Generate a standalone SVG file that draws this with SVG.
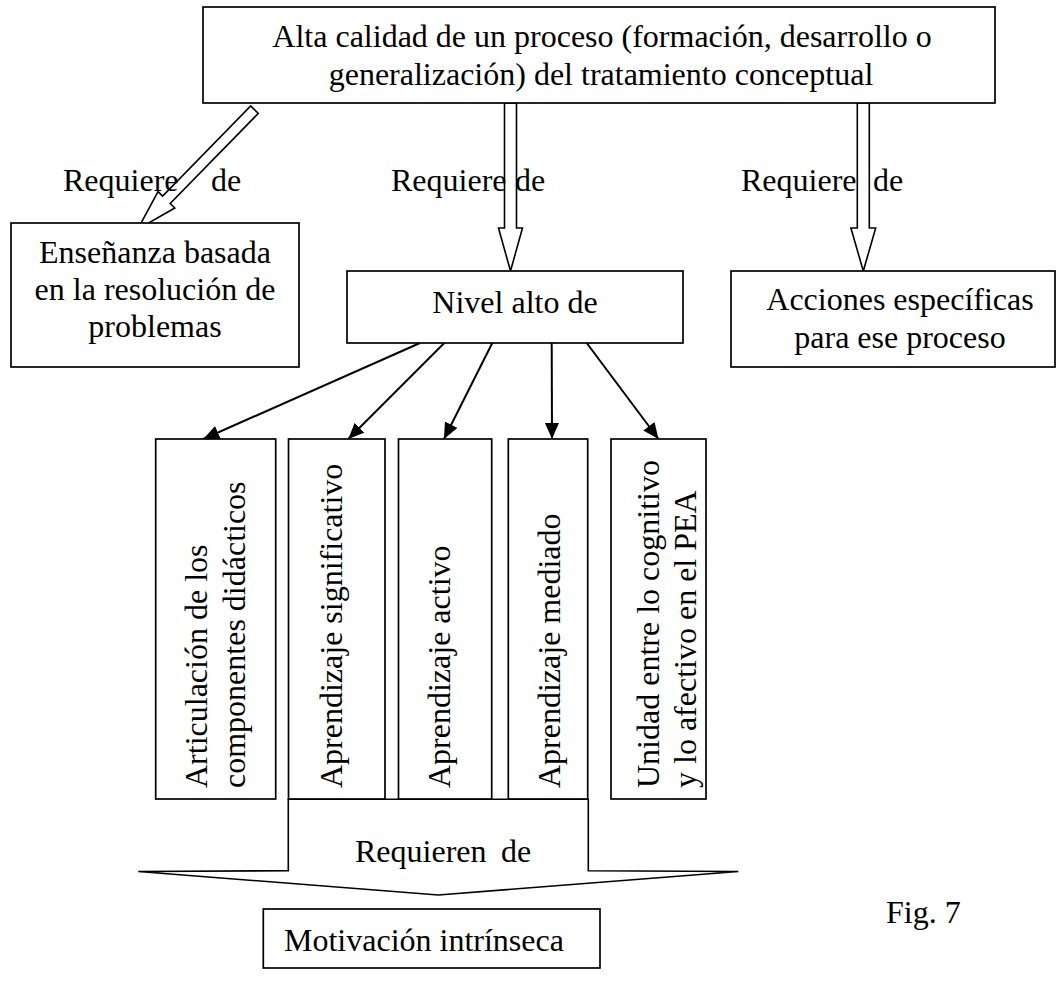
<svg xmlns="http://www.w3.org/2000/svg" width="1057" height="981" viewBox="0 0 1057 981">
  <style>
    .box { fill: #ffffff; stroke: #000000; stroke-width: 1.7; }
    .txt { font-family: "Liberation Serif", "Times New Roman", serif; font-size: 32px; fill: #000000; }
    .mid { text-anchor: middle; }
    .blk { fill: #ffffff; stroke: #000000; stroke-width: 1.6; stroke-linejoin: miter; }
    .thin { fill: none; stroke: #000000; stroke-width: 2; marker-end: url(#head); }
  </style>
  <defs>
    <marker id="head" markerUnits="userSpaceOnUse" markerWidth="17" markerHeight="15" refX="16" refY="7" orient="auto">
      <path d="M0,0 L16,7 L0,14 Z" fill="#000000"/>
    </marker>
  </defs>

  <rect width="1057" height="981" fill="#ffffff"/>

  <!-- connectors: block arrows, thin arrows and their labels -->
  <g id="connectors">
    <!-- top box to "Enseñanza basada" -->
    <polygon class="blk" transform="translate(254.5,109.7) rotate(134.35)"
             points="0,-5.3 126,-5.3 126,-11.7 167,0 126,11.7 126,5.3 0,5.3"/>
    <!-- top box to "Nivel alto de" -->
    <polygon class="blk" points="504.5,103 516.5,103 516.5,228 522.5,228 510.5,271 498.5,228 504.5,228"/>
    <!-- top box to "Acciones específicas" -->
    <polygon class="blk" points="857.3,103 869.3,103 869.3,228 875.7,228 863.3,271 850.9,228 857.3,228"/>

    <!-- "Nivel alto de" to the five vertical boxes -->
    <path class="thin" d="M420,343 L203.3,439"/>
    <path class="thin" d="M444.3,343 L348.3,439"/>
    <path class="thin" d="M492.3,343 L444,439"/>
    <path class="thin" d="M551.7,343 L552,439"/>
    <path class="thin" d="M586.7,343 L658.5,439"/>

    <!-- wide arrow gathering the middle boxes -->
    <polygon class="blk" points="288.3,799.3 588.3,799.3 588.3,870.7 738.3,871.5 438.3,895 138.3,871.5 288.3,870.7"/>

    <text class="txt" y="191"><tspan x="63">Requiere</tspan><tspan x="211">de</tspan></text>
    <text class="txt" y="191"><tspan x="391">Requiere</tspan><tspan x="515">de</tspan></text>
    <text class="txt" y="191"><tspan x="741">Requiere</tspan><tspan x="873">de</tspan></text>
    <text class="txt" y="862"><tspan x="355">Requieren</tspan><tspan x="501">de</tspan></text>
  </g>

  <g id="node-alta-calidad">
    <rect class="box" x="203" y="7" width="792" height="96"/>
    <text class="txt mid" x="602" y="47">Alta calidad de un proceso (formación, desarrollo o</text>
    <text class="txt mid" x="601" y="85">generalización) del tratamiento conceptual</text>
  </g>

  <g id="node-ensenanza">
    <rect class="box" x="11" y="223" width="288" height="144"/>
    <text class="txt mid" x="155" y="263">Enseñanza basada</text>
    <text class="txt mid" x="155" y="300">en la resolución de</text>
    <text class="txt mid" x="155" y="337">problemas</text>
  </g>

  <g id="node-nivel-alto">
    <rect class="box" x="347" y="271" width="336" height="72"/>
    <text class="txt mid" x="515" y="313">Nivel alto de</text>
  </g>

  <g id="node-acciones">
    <rect class="box" x="731" y="271" width="324" height="96"/>
    <text class="txt mid" x="900" y="310">Acciones específicas</text>
    <text class="txt mid" x="900" y="348">para ese proceso</text>
  </g>

  <g id="node-articulacion">
    <rect class="box" x="155.7" y="439" width="120" height="360"/>
    <text class="txt" transform="translate(207,788) rotate(-90)">Articulación de los</text>
    <text class="txt" transform="translate(245,788) rotate(-90)">componentes didácticos</text>
  </g>

  <g id="node-significativo">
    <rect class="box" x="288.5" y="439" width="96.5" height="360"/>
    <text class="txt" transform="translate(341.5,788) rotate(-90)">Aprendizaje significativo</text>
  </g>

  <g id="node-activo">
    <rect class="box" x="398.5" y="439" width="93.2" height="360"/>
    <text class="txt" transform="translate(449.5,788) rotate(-90)">Aprendizaje activo</text>
  </g>

  <g id="node-mediado">
    <rect class="box" x="508.3" y="439" width="79.4" height="360"/>
    <text class="txt" transform="translate(559.5,788) rotate(-90)">Aprendizaje mediado</text>
  </g>

  <g id="node-unidad">
    <rect class="box" x="611" y="439" width="95" height="360"/>
    <text class="txt" transform="translate(659,788) rotate(-90)">Unidad entre lo cognitivo</text>
    <text class="txt" transform="translate(696,788) rotate(-90)">y lo afectivo en el PEA</text>
  </g>

  <g id="node-motivacion">
    <rect class="box" x="263.3" y="909" width="336.7" height="59"/>
    <text class="txt" x="284" y="951">Motivación intrínseca</text>
  </g>

  <text class="txt" x="886" y="923">Fig. 7</text>
</svg>
